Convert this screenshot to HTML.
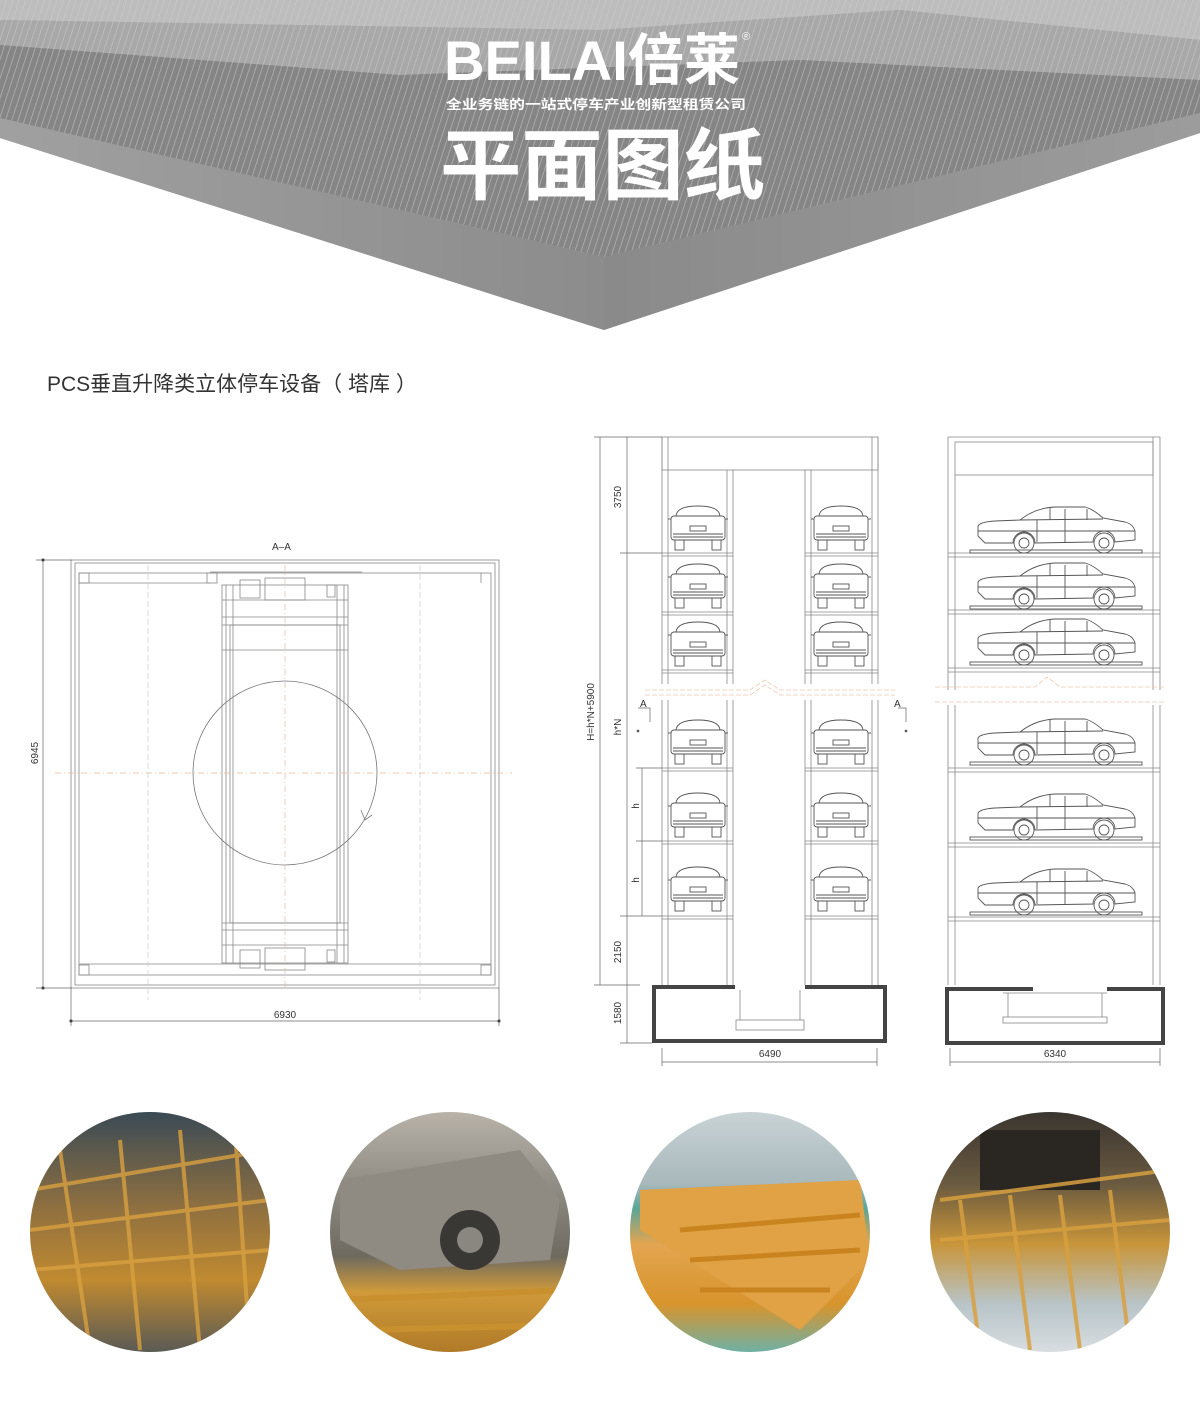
<!DOCTYPE html>
<html><head><meta charset="utf-8"><style>
html,body{margin:0;padding:0;background:#fff;}
body{width:1200px;height:1409px;overflow:hidden;font-family:"Liberation Sans","Noto Sans CJK SC",sans-serif;}
</style></head><body>
<svg width="1200" height="1409" viewBox="0 0 1200 1409" xmlns="http://www.w3.org/2000/svg" font-family="Liberation Sans, Noto Sans CJK SC, sans-serif">
<defs>
<pattern id="st" width="6" height="6" patternUnits="userSpaceOnUse" patternTransform="rotate(18)">
<rect width="6" height="6" fill="none"/><line x1="0" y1="0" x2="0" y2="6" stroke="#d0d0d0" stroke-width="1.3" opacity="0.7"/></pattern>
<linearGradient id="lf" x1="0" y1="0" x2="1" y2="0"><stop offset="0" stop-color="#a0a0a0"/><stop offset="1" stop-color="#8c8c8c"/></linearGradient>
<linearGradient id="rf" x1="0" y1="0" x2="1" y2="0"><stop offset="0" stop-color="#8a8a8a"/><stop offset="1" stop-color="#9c9c9c"/></linearGradient>
<g id="rc" fill="none" stroke="#555" stroke-width="0.9">
<path d="M8,12 Q9,2 30,2 Q51,2 52,12"/><rect x="3" y="12" width="54" height="24" rx="3"/>
<line x1="10" y1="12" x2="50" y2="12"/><rect x="22" y="22" width="16" height="5"/>
<line x1="5" y1="30" x2="55" y2="30"/><line x1="5" y1="33" x2="55" y2="33"/>
<rect x="7" y="36" width="9" height="10"/><rect x="44" y="36" width="9" height="10"/>
<line x1="0" y1="15" x2="3" y2="15"/><line x1="57" y1="15" x2="60" y2="15"/></g>
<g id="sc" fill="none" stroke="#555" stroke-width="0.9">
<path d="M3,30 L3,20 Q5,16 20,15 L45,14 Q60,2 80,1 L110,1 Q118,3 128,12 L150,16 Q158,18 160,25 L160,34 L140,36 A11,11 0 0 0 118,36 L60,37 A11,11 0 0 0 38,37 L10,37 Z"/>
<line x1="62" y1="14" x2="62" y2="36"/><line x1="90" y1="3" x2="90" y2="36"/><line x1="75" y1="2" x2="75" y2="14"/><line x1="112" y1="3" x2="112" y2="14"/>
<line x1="45" y1="14" x2="128" y2="13"/><line x1="3" y1="25" x2="160" y2="25"/>
<circle cx="49" cy="37" r="10"/><circle cx="49" cy="37" r="5"/><circle cx="129" cy="37" r="10"/><circle cx="129" cy="37" r="5"/>
<rect x="-5" y="44" width="172" height="3"/></g>
<linearGradient id="p1b" x1="0" y1="0" x2="0" y2="1"><stop offset="0" stop-color="#3a4a55"/><stop offset="0.4" stop-color="#8f7040"/><stop offset="0.7" stop-color="#c08a30"/><stop offset="1" stop-color="#5a5a55"/></linearGradient>
<linearGradient id="p2" x1="0" y1="0" x2="0" y2="1"><stop offset="0" stop-color="#b8b2a8"/><stop offset="0.35" stop-color="#8a8780"/><stop offset="0.6" stop-color="#6e6a60"/><stop offset="0.75" stop-color="#d09a3a"/><stop offset="1" stop-color="#b07a28"/></linearGradient>
<linearGradient id="p3" x1="0" y1="0" x2="0" y2="1"><stop offset="0" stop-color="#c9d3d6"/><stop offset="0.3" stop-color="#a8b8bb"/><stop offset="0.4" stop-color="#5aa59a"/><stop offset="0.55" stop-color="#e3a550"/><stop offset="0.8" stop-color="#d8942c"/><stop offset="1" stop-color="#6fb0a5"/></linearGradient>
<linearGradient id="p4" x1="0" y1="0" x2="0" y2="1"><stop offset="0" stop-color="#3a3530"/><stop offset="0.3" stop-color="#6a5a40"/><stop offset="0.55" stop-color="#c8953a"/><stop offset="0.8" stop-color="#b8c4c8"/><stop offset="1" stop-color="#d8dde0"/></linearGradient>
<clipPath id="c1"><circle cx="150" cy="1232" r="120"/></clipPath>
<clipPath id="c2"><circle cx="450" cy="1232" r="120"/></clipPath>
<clipPath id="c3"><circle cx="750" cy="1232" r="120"/></clipPath>
<clipPath id="c4"><circle cx="1050" cy="1232" r="120"/></clipPath>
</defs>

<polygon points="0,0 1200,0 1200,133 604,330 0,138" fill="#9a9a9a"/>
<polygon points="0,0 1200,0 1200,40 900,10 600,30 0,20" fill="#bdbdbd"/>
<polygon points="0,20 600,30 900,10 1200,40 1200,80 800,60 400,75 0,45" fill="#a8a8a8"/>
<polygon points="0,45 400,75 800,60 1200,80 1200,113 604,257 0,118" fill="#858585"/>
<polygon points="0,0 1200,0 1200,113 604,257 0,118" fill="url(#st)"/>
<polygon points="0,118 604,257 604,330 0,138" fill="url(#lf)"/>
<polygon points="604,257 1200,113 1200,133 604,330" fill="url(#rf)"/>
<text x="444" y="80" font-size="56" font-weight="bold" fill="#fff" textLength="296" lengthAdjust="spacingAndGlyphs">BEILAI倍莱</text>
<text x="742" y="40" font-size="11" fill="#fff">®</text>
<text x="446" y="109" font-size="13" font-weight="bold" fill="#fff" textLength="300" lengthAdjust="spacingAndGlyphs">全业务链的一站式停车产业创新型租赁公司</text>
<text x="440" y="193" font-size="78" font-weight="bold" fill="#fff" textLength="325" lengthAdjust="spacingAndGlyphs">平面图纸</text>

<text x="47" y="391" font-size="21" fill="#333">PCS垂直升降类立体停车设备（ 塔库 ）</text>

<g fill="none" stroke="#888" stroke-width="0.8">
<text x="272" y="550" font-size="10" fill="#333" stroke="none">A–A</text>
<rect x="71" y="560" width="428" height="428"/>
<rect x="75" y="563" width="420" height="422"/>
<rect x="79" y="573" width="412" height="402"/>
<line x1="79" y1="583" x2="210" y2="583"/><rect x="79" y="573" width="10" height="10"/><rect x="207" y="573" width="10" height="10"/>
<line x1="210" y1="572" x2="362" y2="572"/><line x1="481" y1="573" x2="481" y2="583"/>
<line x1="79" y1="964" x2="491" y2="964"/><rect x="79" y="965" width="10" height="10"/><rect x="481" y="965" width="10" height="10"/>
<rect x="222" y="585" width="126" height="378"/>
<rect x="230" y="625" width="110" height="298"/>
<line x1="222" y1="617" x2="348" y2="617"/><line x1="222" y1="625" x2="348" y2="625"/>
<line x1="222" y1="600" x2="348" y2="600"/><line x1="222" y1="650" x2="348" y2="650"/>
<line x1="222" y1="923" x2="348" y2="923"/><line x1="222" y1="930" x2="348" y2="930"/><line x1="222" y1="945" x2="348" y2="945"/>
<line x1="226" y1="585" x2="226" y2="963"/><line x1="344" y1="585" x2="344" y2="963"/><line x1="233" y1="585" x2="233" y2="963"/><line x1="337" y1="585" x2="337" y2="963"/>
<rect x="265" y="578" width="40" height="22"/><rect x="265" y="948" width="40" height="22"/>
<rect x="240" y="580" width="20" height="18"/><rect x="240" y="950" width="20" height="18"/>
<rect x="327" y="585" width="8" height="12"/><rect x="327" y="950" width="8" height="12"/>
<circle cx="285" cy="773" r="92" stroke="#777"/>
<path d="M361,810 L365,820 L372,815" stroke="#777"/>
</g>
<g stroke="#e8b89a" stroke-width="0.7" stroke-dasharray="6,3,1,3" fill="none">
<line x1="55" y1="773" x2="512" y2="773"/>
<line x1="285" y1="565" x2="285" y2="990"/>
</g>
<g stroke="#ccc" stroke-width="0.7" stroke-dasharray="6,3" fill="none">
<line x1="148" y1="565" x2="148" y2="1000"/><line x1="420" y1="565" x2="420" y2="1000"/>
</g>
<g stroke="#666" stroke-width="0.7" fill="#333">
<line x1="43" y1="560" x2="43" y2="988"/><line x1="36" y1="560" x2="72" y2="560"/><line x1="36" y1="988" x2="72" y2="988"/>
<circle cx="43" cy="560" r="1.3"/><circle cx="43" cy="988" r="1.3"/>
<line x1="71" y1="988" x2="71" y2="1026"/><line x1="499" y1="988" x2="499" y2="1026"/><line x1="71" y1="1021" x2="499" y2="1021"/>
<circle cx="71" cy="1021" r="1.3"/><circle cx="499" cy="1021" r="1.3"/>
</g>
<text x="38" y="753" font-size="10" fill="#333" transform="rotate(-90 38 753)" text-anchor="middle">6945</text>
<text x="285" y="1018" font-size="10" fill="#333" text-anchor="middle">6930</text>

<g fill="none" stroke="#888" stroke-width="0.8">
<rect x="662" y="437" width="216" height="33"/>
<line x1="662" y1="437" x2="662" y2="985"/><line x1="668" y1="437" x2="668" y2="985"/>
<line x1="872" y1="437" x2="872" y2="985"/><line x1="878" y1="437" x2="878" y2="985"/>
<line x1="727" y1="470" x2="727" y2="985"/><line x1="733" y1="470" x2="733" y2="985"/>
<line x1="805" y1="470" x2="805" y2="985"/><line x1="811" y1="470" x2="811" y2="985"/>
<g id="fl">
<line x1="662" y1="553" x2="733" y2="553"/><line x1="662" y1="556" x2="733" y2="556"/>
<line x1="805" y1="553" x2="878" y2="553"/><line x1="805" y1="556" x2="878" y2="556"/>
</g>
<use href="#fl" y="59"/><use href="#fl" y="117"/><use href="#fl" y="215"/><use href="#fl" y="288"/><use href="#fl" y="363"/>
</g>
<rect x="655" y="684" width="230" height="16" fill="#fff"/>
<path d="M645,690 L750,690 L765,680 L780,690 L895,690" stroke="#f0c8b0" stroke-width="0.8" fill="none" stroke-dasharray="5,2"/>
<path d="M645,695 L750,695 L765,685 L780,695 L895,695" stroke="#f0c8b0" stroke-width="0.8" fill="none" stroke-dasharray="5,2"/>
<g>
<use href="#rc" x="668" y="504"/><use href="#rc" x="811" y="504"/>
<use href="#rc" x="668" y="562"/><use href="#rc" x="811" y="562"/>
<use href="#rc" x="668" y="620"/><use href="#rc" x="811" y="620"/>
<use href="#rc" x="668" y="718"/><use href="#rc" x="811" y="718"/>
<use href="#rc" x="668" y="791"/><use href="#rc" x="811" y="791"/>
<use href="#rc" x="668" y="865"/><use href="#rc" x="811" y="865"/>
</g>
<g fill="none" stroke="#444" stroke-width="4">
<polyline points="735,987 654,987 654,1041 885,1041 885,987 805,987"/>
</g>
<g fill="none" stroke="#888" stroke-width="0.8">
<rect x="736" y="1020" width="68" height="10"/><line x1="740" y1="990" x2="740" y2="1020"/><line x1="800" y1="990" x2="800" y2="1020"/>
</g>
<g stroke="#666" stroke-width="0.7" fill="#333">
<line x1="600" y1="437" x2="600" y2="985"/><line x1="594" y1="437" x2="662" y2="437"/><line x1="594" y1="985" x2="640" y2="985"/>
<line x1="627" y1="437" x2="627" y2="1043"/><line x1="620" y1="553" x2="662" y2="553"/><line x1="620" y1="916" x2="662" y2="916"/><line x1="620" y1="1043" x2="652" y2="1043"/>
<line x1="642" y1="768" x2="642" y2="916"/><line x1="636" y1="768" x2="662" y2="768"/><line x1="636" y1="841" x2="662" y2="841"/>
<line x1="662" y1="1048" x2="662" y2="1066"/><line x1="877" y1="1048" x2="877" y2="1066"/><line x1="662" y1="1062" x2="877" y2="1062"/>
<line x1="950" y1="1048" x2="950" y2="1066"/><line x1="1160" y1="1048" x2="1160" y2="1066"/><line x1="950" y1="1062" x2="1160" y2="1062"/>
<polyline points="638,708 650,708 650,722" fill="none"/><circle cx="638" cy="731" r="1"/>
<polyline points="898,708 906,708 906,722" fill="none"/><circle cx="906" cy="731" r="1"/>
</g>
<g font-size="10" fill="#333">
<text x="594" y="712" transform="rotate(-90 594 712)" text-anchor="middle">H=h*N+5900</text>
<text x="621" y="497" transform="rotate(-90 621 497)" text-anchor="middle">3750</text>
<text x="621" y="727" transform="rotate(-90 621 727)" text-anchor="middle">h*N</text>
<text x="621" y="952" transform="rotate(-90 621 952)" text-anchor="middle">2150</text>
<text x="621" y="1013" transform="rotate(-90 621 1013)" text-anchor="middle">1580</text>
<text x="639" y="806" transform="rotate(-90 639 806)" text-anchor="middle">h</text>
<text x="639" y="880" transform="rotate(-90 639 880)" text-anchor="middle">h</text>
<text x="640" y="707">A</text><text x="894" y="707">A</text>
<text x="770" y="1057" text-anchor="middle">6490</text>
<text x="1055" y="1057" text-anchor="middle">6340</text>
</g>

<g fill="none" stroke="#888" stroke-width="0.8">
<line x1="948" y1="437" x2="1160" y2="437"/>
<line x1="948" y1="437" x2="948" y2="690"/><line x1="955" y1="475" x2="955" y2="690"/>
<line x1="1153" y1="437" x2="1153" y2="690"/><line x1="1160" y1="437" x2="1160" y2="690"/>
<line x1="948" y1="705" x2="948" y2="985"/><line x1="955" y1="705" x2="955" y2="985"/>
<line x1="1153" y1="705" x2="1153" y2="985"/><line x1="1160" y1="705" x2="1160" y2="985"/>
<rect x="955" y="442" width="198" height="33"/>
<g id="fr"><line x1="948" y1="553" x2="1160" y2="553"/><line x1="948" y1="557" x2="1160" y2="557"/></g>
<use href="#fr" y="57"/><use href="#fr" y="115"/><use href="#fr" y="215"/><use href="#fr" y="290"/><use href="#fr" y="364"/>
</g>
<path d="M935,687 L1035,687 L1047,677 L1060,687 L1165,687" stroke="#f0c8b0" stroke-width="0.8" fill="none" stroke-dasharray="5,2"/>
<path d="M935,702 L1165,702" stroke="#f0c8b0" stroke-width="0.8" fill="none" stroke-dasharray="5,2"/>
<use href="#sc" x="975" y="506"/><use href="#sc" x="975" y="562"/><use href="#sc" x="975" y="618"/>
<use href="#sc" x="975" y="718"/><use href="#sc" x="975" y="793"/><use href="#sc" x="975" y="868"/>
<g fill="none" stroke="#444" stroke-width="4">
<polyline points="1033,989 947,989 947,1043 1163,1043 1163,989 1107,989"/>
</g>
<g fill="none" stroke="#888" stroke-width="0.8">
<rect x="1003" y="1017" width="104" height="6"/><line x1="1003" y1="993" x2="1107" y2="993"/><line x1="1008" y1="993" x2="1008" y2="1017"/><line x1="1102" y1="993" x2="1102" y2="1017"/>
</g>

<g clip-path="url(#c1)">
<rect x="30" y="1112" width="240" height="240" fill="url(#p1b)"/>
<g stroke="#d9a040" stroke-width="4" opacity="0.8">
<line x1="30" y1="1190" x2="270" y2="1150"/><line x1="30" y1="1230" x2="270" y2="1200"/><line x1="30" y1="1270" x2="270" y2="1250"/>
<line x1="60" y1="1150" x2="90" y2="1350"/><line x1="120" y1="1140" x2="140" y2="1350"/><line x1="180" y1="1130" x2="200" y2="1350"/><line x1="235" y1="1130" x2="250" y2="1350"/>
</g></g>
<g clip-path="url(#c2)">
<rect x="330" y="1112" width="240" height="240" fill="url(#p2)"/>
<path d="M340,1180 L520,1150 L560,1200 L550,1260 L400,1270 L340,1240 Z" fill="#8f8a82"/>
<circle cx="470" cy="1240" r="30" fill="#3a3835"/><circle cx="470" cy="1240" r="13" fill="#8a8680"/>
<g stroke="#c8902e" stroke-width="6"><line x1="340" y1="1300" x2="570" y2="1290"/><line x1="360" y1="1330" x2="570" y2="1325"/></g>
</g>
<g clip-path="url(#c3)">
<rect x="630" y="1112" width="240" height="240" fill="url(#p3)"/>
<path d="M640,1190 L860,1180 L870,1260 L800,1330 L640,1230 Z" fill="#e0a244"/>
<g stroke="#c98420" stroke-width="5"><line x1="680" y1="1230" x2="860" y2="1215"/><line x1="690" y1="1260" x2="860" y2="1250"/><line x1="700" y1="1290" x2="830" y2="1290"/></g>
</g>
<g clip-path="url(#c4)">
<rect x="930" y="1112" width="240" height="240" fill="url(#p4)"/>
<rect x="980" y="1130" width="120" height="60" fill="#2a2622"/>
<g stroke="#d8a040" stroke-width="4" opacity="0.85">
<line x1="940" y1="1200" x2="1170" y2="1170"/><line x1="940" y1="1240" x2="1170" y2="1220"/>
<line x1="960" y1="1200" x2="980" y2="1350"/><line x1="1010" y1="1195" x2="1030" y2="1350"/><line x1="1060" y1="1195" x2="1080" y2="1350"/><line x1="1110" y1="1190" x2="1130" y2="1350"/>
</g></g>
</svg>
</body></html>
